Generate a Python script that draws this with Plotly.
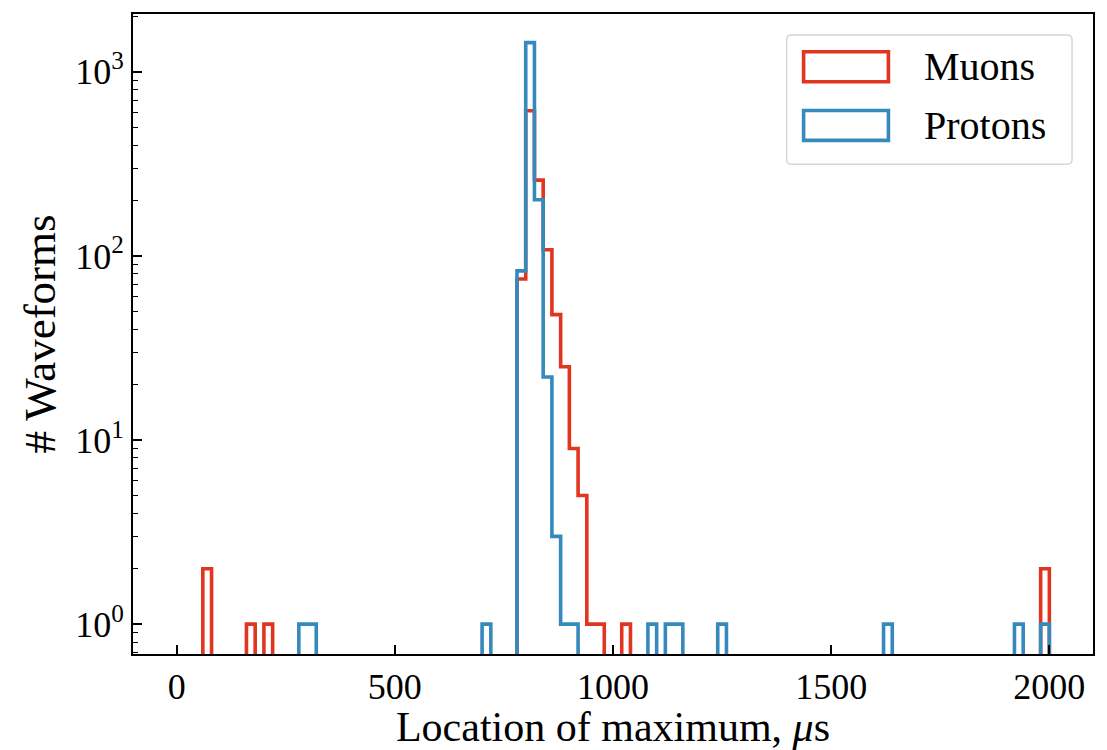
import numpy as np
import plotly.graph_objects as go

# ---- data ----
bin_width = 20
x_min, x_max = 0, 2000

muon_bin_left = [60, 160, 200, 780, 800, 820, 840, 860, 880, 900, 920, 940, 960, 1020, 1980]
muon_counts = [2, 1, 1, 75, 615, 258, 108, 48, 25, 9, 5, 1, 1, 1, 2]

proton_bin_left = [280, 300, 700, 780, 800, 820, 840, 860, 880, 900, 1080, 1120, 1140, 1240, 1620, 1920, 1980]
proton_counts = [1, 1, 1, 83, 1440, 202, 22, 3, 1, 1, 1, 1, 1, 1, 1, 1, 1]

series_names = ["Muons", "Protons"]
series_colors = ["#E0351F", "#348ABD"]

y_tick_vals = [1, 10, 100, 1000]
y_tick_text = ["10<sup>0</sup>", "10<sup>1</sup>", "10<sup>2</sup>", "10<sup>3</sup>"]
x_tick_vals = [0, 500, 1000, 1500, 2000]

FLOOR = 0.05  # below visible range -> baseline clipped like matplotlib log step hist
edges = np.arange(x_min, x_max + bin_width, bin_width)


def step_outline(lefts, counts):
    full = np.zeros(len(edges) - 1)
    for l, c in zip(lefts, counts):
        full[int((l - x_min) // bin_width)] = c
    y = np.where(full > 0, full, FLOOR)
    y = np.append(y, FLOOR)
    return edges, y


fig = go.Figure()
for lefts, counts, name, color in [
    (muon_bin_left, muon_counts, series_names[0], series_colors[0]),
    (proton_bin_left, proton_counts, series_names[1], series_colors[1]),
]:
    xs, ys = step_outline(lefts, counts)
    fig.add_trace(go.Scatter(
        x=xs, y=ys, mode="lines", name=name,
        line=dict(color=color, width=3.6, shape="hv"),
        showlegend=False, hoverinfo="skip",
    ))

FONT = "Liberation Serif"

# plot area in pixels
L, R, T, B = 133, 1095, 12, 655
W, H = 1107, 750


def px(xp):
    return (xp - L) / (R - L)


def py(yp):
    return (B - yp) / (B - T)


shapes = []
# legend frame (rounded)
x0, x1, y0, y1 = px(788), px(1074), py(163), py(33)
rx, ry = 5 / (R - L), 5 / (B - T)
path = (f"M {x0+rx},{y0} L {x1-rx},{y0} Q {x1},{y0} {x1},{y0+ry} "
        f"L {x1},{y1-ry} Q {x1},{y1} {x1-rx},{y1} L {x0+rx},{y1} "
        f"Q {x0},{y1} {x0},{y1-ry} L {x0},{y0+ry} Q {x0},{y0} {x0+rx},{y0} Z")
shapes.append(dict(type="path", xref="paper", yref="paper", path=path,
                   line=dict(color="#d6d6d6", width=1.5), fillcolor="rgba(255,255,255,0.8)",
                   layer="above"))
annotations = []
for i, (name, color) in enumerate(zip(series_names, series_colors)):
    cy = 65 + i * 59
    shapes.append(dict(type="rect", xref="paper", yref="paper",
                       x0=px(805), x1=px(890), y0=py(cy + 15), y1=py(cy - 15),
                       line=dict(color=color, width=3.6), fillcolor="rgba(0,0,0,0)",
                       layer="above"))
    annotations.append(dict(xref="paper", yref="paper", x=px(924), y=py(cy),
                            xanchor="left", yanchor="middle", text=name, showarrow=False,
                            font=dict(family=FONT, size=40, color="black")))

fig.update_layout(
    width=W, height=H,
    margin=dict(l=L, r=W - R, t=T, b=H - B),
    paper_bgcolor="white", plot_bgcolor="white",
    shapes=shapes, annotations=annotations,
    font=dict(family=FONT, size=36, color="black"),
)
fig.update_xaxes(
    range=[-100, 2100], tickvals=x_tick_vals, ticks="inside", ticklen=9, tickwidth=1.5,
    tickcolor="black", showgrid=False, zeroline=False, showline=True, linecolor="black",
    linewidth=1.8, mirror=True,
    tickfont=dict(family=FONT, size=36, color="black"),
    title=dict(text="Location of maximum, <i>μ</i>s", standoff=2,
               font=dict(family=FONT, size=42, color="black")),
)
fig.update_yaxes(
    type="log", range=[-0.162, 3.314], tickvals=y_tick_vals, ticktext=y_tick_text,
    ticks="inside", ticklen=9, tickwidth=1.5, tickcolor="black",
    minor=dict(ticks="inside", ticklen=5, tickwidth=1.2, tickcolor="black",
               tickvals=[m * 10 ** k for k in range(-1, 4) for m in range(2, 10)]),
    showgrid=False, zeroline=False, showline=True, linecolor="black", linewidth=1.8,
    mirror=True,
    tickfont=dict(family=FONT, size=36, color="black"),
    title=dict(text="# Waveforms", standoff=6,
               font=dict(family=FONT, size=45, color="black")),
)

fig.write_html("out.html")
